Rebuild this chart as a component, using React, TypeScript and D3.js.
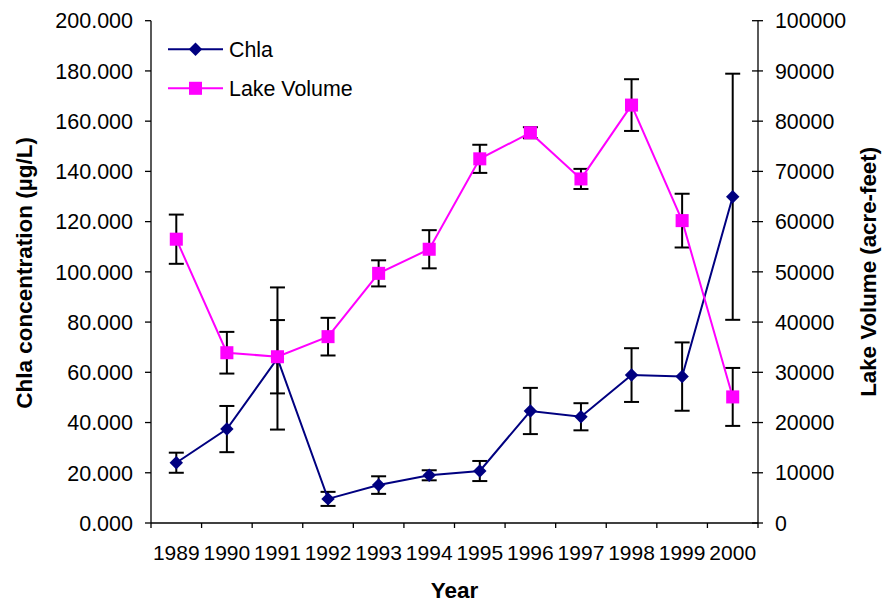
import React from 'react';
import * as d3 from 'd3';

// values
const years = ['1989', '1990', '1991', '1992', '1993', '1994', '1995', '1996', '1997', '1998', '1999', '2000'];
const chla = [24.0, 37.4, 65.5, 9.6, 15.1, 19.0, 20.7, 44.6, 42.3, 58.9, 58.3, 129.9];
const chlaErr = [4.0, 9.2, 28.3, 2.8, 3.5, 2.0, 4.0, 9.2, 5.4, 10.7, 13.6, 49.0];
const volume = [56500, 33900, 33100, 37100, 49700, 54500, 72500, 77700, 68500, 83200, 60200, 25100];
const volumeErr = [4900, 4150, 7300, 3750, 2600, 3800, 2800, 1100, 2000, 5150, 5350, 5770];
const chlaTicks = d3.range(0, 201, 20);
const volumeTicks = d3.range(0, 100001, 10000);

const FONT = '"Liberation Sans", Arial, sans-serif';
const NAVY = '#000080';
const MAGENTA = '#FF00FF';

export default function App() {
  const width = 882;
  const height = 605;
  const left = 151;
  const right = 758;
  const top = 20.7;
  const bottom = 523;

  const x = d3.scaleBand<string>().domain(years).range([left, right]);
  const cx = (yr: string) => (x(yr) as number) + x.bandwidth() / 2;
  const yL = d3.scaleLinear().domain([0, 200]).range([bottom, top]);
  const yR = d3.scaleLinear().domain([0, 100000]).range([bottom, top]);

  const chlaLine = d3.line<number>().x((_, i) => cx(years[i])).y(d => yL(d));
  const volLine = d3.line<number>().x((_, i) => cx(years[i])).y(d => yR(d));

  const diamond = d3.symbol(d3.symbolSquare, 90)() as string;
  const square = d3.symbol(d3.symbolSquare, 170)() as string;
  const cap = 7.5;

  const errBars = (vals: number[], errs: number[], y: d3.ScaleLinear<number, number>, key: string) =>
    vals.map((v, i) => {
      const px = cx(years[i]);
      const y1 = y(v + errs[i]);
      const y2 = y(v - errs[i]);
      return (
        <g key={key + i} stroke="#000" strokeWidth={2}>
          <line x1={px} x2={px} y1={y1} y2={y2} />
          <line x1={px - cap} x2={px + cap} y1={y1} y2={y1} />
          <line x1={px - cap} x2={px + cap} y1={y2} y2={y2} />
        </g>
      );
    });

  const xTicks = [...years.map(yr => x(yr) as number), right];

  return (
    <svg width={width} height={height} style={{ position: 'absolute', left: 0, top: 0, background: '#fff' }}
      fontFamily={FONT}>
      {/* left axis */}
      <line x1={left} x2={left} y1={top} y2={bottom} stroke="#000" strokeWidth={1.3} />
      {chlaTicks.map(t => (
        <g key={'l' + t}>
          <line x1={left - 6} x2={left} y1={yL(t)} y2={yL(t)} stroke="#000" strokeWidth={1.3} />
          <text x={133} y={yL(t)} dy="0.36em" textAnchor="end" fontSize={21.5}>{t.toFixed(3)}</text>
        </g>
      ))}
      {/* right axis */}
      <line x1={right} x2={right} y1={top} y2={bottom} stroke="#000" strokeWidth={1.3} />
      {volumeTicks.map(t => (
        <g key={'r' + t}>
          <line x1={right - 6} x2={right + 5} y1={yR(t)} y2={yR(t)} stroke="#000" strokeWidth={1.3} />
          <text x={775} y={yR(t)} dy="0.36em" textAnchor="start" fontSize={21.3}>{t}</text>
        </g>
      ))}
      {/* x axis */}
      <line x1={left} x2={right} y1={bottom} y2={bottom} stroke="#000" strokeWidth={1.3} />
      {xTicks.map((t, i) => (
        <line key={'x' + i} x1={t} x2={t} y1={bottom} y2={bottom + 5} stroke="#000" strokeWidth={1.3} />
      ))}
      {years.map(yr => (
        <text key={'yl' + yr} x={cx(yr)} y={560} textAnchor="middle" fontSize={21}>{yr}</text>
      ))}

      {/* axis titles */}
      <text x={(left + right) / 2} y={598} textAnchor="middle" fontSize={22.5} fontWeight="bold">Year</text>
      <text transform={`translate(24,${(top + bottom) / 2 + 1}) rotate(-90)`} dy="0.36em" textAnchor="middle"
        fontSize={22.5} fontWeight="bold">Chla concentration (µg/L)</text>
      <text transform={`translate(868,${(top + bottom) / 2}) rotate(-90)`} dy="0.36em" textAnchor="middle"
        fontSize={22.3} fontWeight="bold">Lake Volume (acre-feet)</text>

      {/* Chla series */}
      {errBars(chla, chlaErr, yL, 'ce')}
      <path d={chlaLine(chla) as string} fill="none" stroke={NAVY} strokeWidth={2} />
      {chla.map((v, i) => (
        <path key={'cm' + i} d={diamond} fill={NAVY}
          transform={`translate(${cx(years[i])},${yL(v)}) rotate(45)`} />
      ))}

      {/* Lake Volume series */}
      {errBars(volume, volumeErr, yR, 've')}
      <path d={volLine(volume) as string} fill="none" stroke={MAGENTA} strokeWidth={2} />
      {volume.map((v, i) => (
        <path key={'vm' + i} d={square} fill={MAGENTA}
          transform={`translate(${cx(years[i])},${yR(v)})`} />
      ))}

      {/* legend */}
      <g>
        <line x1={168} x2={223} y1={49.3} y2={49.3} stroke={NAVY} strokeWidth={2} />
        <path d={diamond} fill={NAVY} transform="translate(195.5,49.3) rotate(45)" />
        <text x={229} y={49.3} dy="0.36em" fontSize={21.4}>Chla</text>
        <line x1={168} x2={223} y1={88.3} y2={88.3} stroke={MAGENTA} strokeWidth={2} />
        <path d={square} fill={MAGENTA} transform="translate(195.5,88.3)" />
        <text x={229} y={88.3} dy="0.36em" fontSize={21.4}>Lake Volume</text>
      </g>
    </svg>
  );
}
